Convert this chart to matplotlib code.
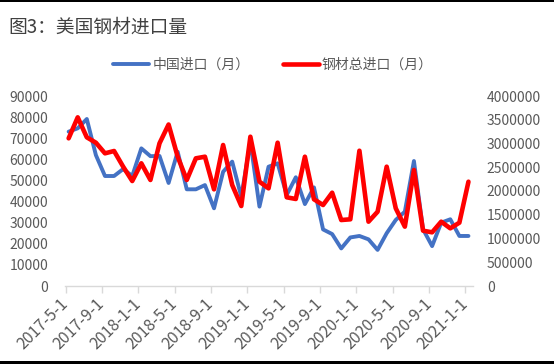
import matplotlib
matplotlib.use("Agg")
import matplotlib.pyplot as plt
from matplotlib.patches import Rectangle
from matplotlib.transforms import ScaledTranslation

plt.rcParams['font.family'] = ['Noto Sans CJK SC', 'DejaVu Sans']

title = "图3：美国钢材进口量"
label_china = "中国进口（月）"
label_total = "钢材总进口（月）"

tick_labels = ["2017-5-1", "2017-9-1", "2018-1-1", "2018-5-1", "2018-9-1", "2019-1-1",
               "2019-5-1", "2019-9-1", "2020-1-1", "2020-5-1", "2020-9-1", "2021-1-1"]

# monthly, 2017-05 .. 2021-01
china = [73100, 74700, 79100, 62000, 52100, 52100, 55400, 52100, 65200, 61500, 61600, 48800,
         63600, 45800, 45800, 47800, 36800, 54100, 58900, 42300, 68400, 37600, 56500, 58100,
         43100, 51500, 38800, 46700, 26800, 24600, 17800, 23000, 23700, 22100, 17100, 25000,
         31300, 35200, 59200, 26900, 18900, 30000, 31600, 23700, 23700]

total = [3109000, 3551000, 3130000, 3017000, 2793000, 2842000, 2512000, 2210000, 2583000,
         2232000, 3004000, 3400000, 2722000, 2232000, 2688000, 2722000, 2035000, 2968000,
         2126000, 1684000, 3143000, 2196000, 2056000, 3017000, 1867000, 1832000, 2722000,
         1825000, 1705000, 1964000, 1389000, 1404000, 2848000, 1354000, 1564000, 2512000,
         1635000, 1249000, 2442000, 1165000, 1130000, 1354000, 1214000, 1333000, 2196000]

left_ticks = list(range(0, 90001, 10000))
right_ticks = list(range(0, 4000001, 500000))

W, H = 554, 364
fig = plt.figure(figsize=(W / 100, H / 100), dpi=100)
ax = fig.add_axes([65 / W, 1 - 286 / H, (473 - 65) / W, (286 - 96) / H])
ax2 = ax.twinx()

x = list(range(len(china)))
gray = '#595959'
l1, = ax.plot(x, china, color='#4472C4', lw=2.8, solid_joinstyle='round', solid_capstyle='round')
l2, = ax2.plot(x, total, color='#FF0000', lw=3.3, solid_joinstyle='round', solid_capstyle='round')

ax.set_xlim(-0.4, 44.5)
ax.set_ylim(0, 90000)
ax2.set_ylim(0, 4000000)
ax.set_yticks(left_ticks)
ax.set_yticklabels([str(v) for v in left_ticks])
ax2.set_yticks(right_ticks)
ax2.set_yticklabels([str(v) for v in right_ticks])

tick_pos = [4 * k - 0.33 for k in range(len(tick_labels))]
ax.set_xticks(tick_pos)
ax.set_xticklabels(tick_labels, rotation=45, ha='right', va='center', rotation_mode='anchor')
shift = ScaledTranslation(4 / 100, 2 / 100, fig.dpi_scale_trans)
for lab in ax.get_xticklabels():
    lab.set_transform(lab.get_transform() + shift)

for a in (ax, ax2):
    for s in ('top', 'left', 'right', 'bottom'):
        a.spines[s].set_visible(False)
ax.spines['bottom'].set_visible(True)
ax.spines['bottom'].set_color('#D9D9D9')
ax.spines['bottom'].set_linewidth(1.0)

ax.tick_params(axis='x', colors='#D9D9D9', length=5, width=1.0, labelcolor=gray,
               labelsize=11.5, pad=6)
ax.tick_params(axis='y', length=0, labelcolor=gray, labelsize=10, pad=12)
ax2.tick_params(axis='y', length=0, labelcolor=gray, labelsize=10, pad=10)

fig.text(8 / W, 1 - 27 / H, title, fontsize=13.5, color='#404040', va='center', ha='left')

fig.legend([l1, l2], [label_china, label_total], loc='center',
           bbox_to_anchor=(273 / W, 1 - 65 / H), ncol=2, frameon=False,
           fontsize=10, handlelength=2.6, handletextpad=0.2, columnspacing=2.4,
           labelcolor=gray)

fig.add_artist(Rectangle((0, 1 - 2 / H), 1, 2 / H, transform=fig.transFigure,
                         color='black', lw=0))
fig.add_artist(Rectangle((0, 0), 1, 3 / H, transform=fig.transFigure,
                         color='black', lw=0))

fig.savefig('out.png', dpi=100)
